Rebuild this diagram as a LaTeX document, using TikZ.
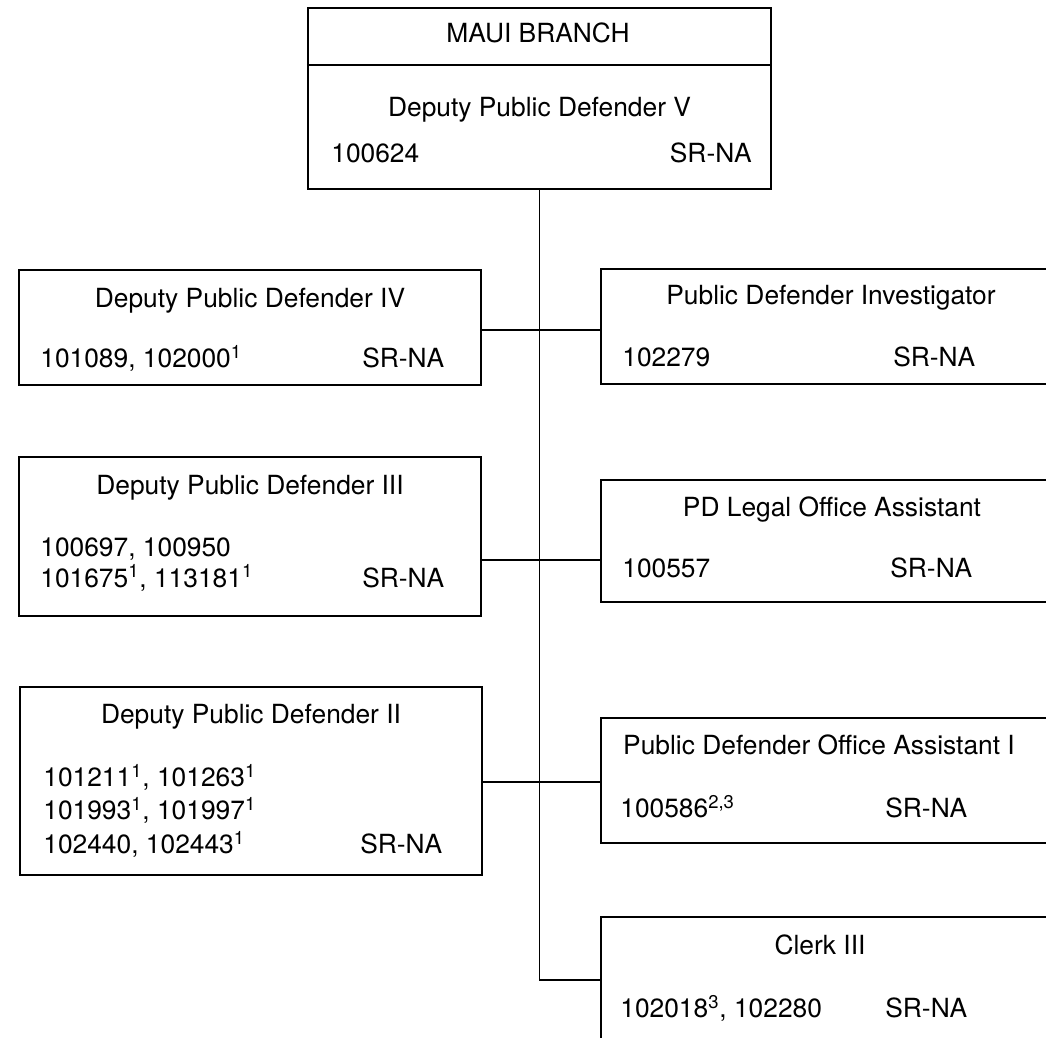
\documentclass[tikz,border=0pt]{standalone}
\usepackage{fontspec}
\setmainfont{TeX Gyre Heros}
\tikzset{
  box/.style={draw, rectangle, line width=1.4pt, minimum width=9.24cm, inner sep=0pt},
  ttl/.style={anchor=base, inner sep=0pt},
  num/.style={anchor=base west, inner sep=0pt},
  link/.style={line width=1.1pt}
}
\begin{document}
\begin{tikzpicture}[font=\fontsize{15}{18}\selectfont]
\useasboundingbox (0,0) rectangle (20.92,20.74);
\clip (0,0) rectangle (20.92,20.74);

\node[box, minimum width=9.26cm, minimum height=3.62cm] (maui) at (10.79,18.77) {};
\node[box, minimum height=2.30cm] (dpd4) at (5.00,14.19) {};
\node[box, minimum height=2.30cm] (pdi) at (16.64,14.21) {};
\node[box, minimum height=3.18cm] (dpd3) at (5.00,10.01) {};
\node[box, minimum height=2.44cm] (pdloa) at (16.64,9.92) {};
\node[box, minimum height=3.76cm] (dpd2) at (5.02,5.12) {};
\node[box, minimum height=2.50cm] (pdoa) at (16.64,5.13) {};
\node[box, minimum height=3.00cm] (clerk) at (16.64,0.90) {};

\draw[line width=1.4pt] (maui.west |- 0,19.44) -- (maui.east |- 0,19.44);

\coordinate (j1) at (10.78,14.14);
\coordinate (j2) at (10.78,9.54);
\coordinate (j3) at (10.78,5.10);
\coordinate (j4) at (10.78,1.14);

\draw[link] (maui.south) -- (maui.south |- j4) -- (clerk.west |- j4);
\draw[link] (dpd4.east |- j1) -- (pdi.west |- j1);
\draw[link] (dpd3.east |- j2) -- (pdloa.west |- j2);
\draw[link] (dpd2.east |- j3) -- (pdoa.west |- j3);

\node[ttl] (mauit) at (10.76,19.89) {MAUI BRANCH};
\node[ttl] (maui1) at (10.79,18.41) {Deputy Public Defender V};
\node[num] (maui2) at (6.62,17.49) {100624};
\node[ttl, anchor=base east] (maui3) at (15.04,17.49) {SR-NA};

\node[ttl] (dpd4t) at (5.00,14.59) {Deputy Public Defender IV};
\node[num] (dpd4a) at (0.80,13.39) {101089, 102000\textsuperscript{1}};
\node[num] (dpd4s) at (7.24,13.39) {SR-NA};

\node[ttl] (pdit) at (16.62,14.65) {Public Defender Investigator};
\node[num] (pdia) at (12.44,13.41) {102279};
\node[num] (pdis) at (17.86,13.41) {SR-NA};

\node[ttl] (dpd3t) at (5.00,10.85) {Deputy Public Defender III};
\node[num] (dpd3a) at (0.80,9.61) {100697, 100950};
\node[num] (dpd3b) at (0.80,9.00) {101675\textsuperscript{1}, 113181\textsuperscript{1}};
\node[num] (dpd3s) at (7.24,9.00) {SR-NA};

\node[ttl] (pdloat) at (16.64,10.41) {PD Legal Office Assistant};
\node[num] (pdloaa) at (12.44,9.19) {100557};
\node[num] (pdloas) at (17.80,9.19) {SR-NA};

\node[ttl] (dpd2t) at (5.02,6.27) {Deputy Public Defender II};
\node[num] (dpd2a) at (0.86,5.01) {101211\textsuperscript{1}, 101263\textsuperscript{1}};
\node[num] (dpd2b) at (0.86,4.35) {101993\textsuperscript{1}, 101997\textsuperscript{1}};
\node[num] (dpd2c) at (0.86,3.67) {102440, 102443\textsuperscript{1}};
\node[num] (dpd2s) at (7.20,3.67) {SR-NA};

\node[ttl] (pdoat) at (16.38,5.65) {Public Defender Office Assistant I};
\node[num] (pdoaa) at (12.40,4.39) {100586\textsuperscript{2,3}};
\node[num] (pdoas) at (17.70,4.39) {SR-NA};

\node[ttl] (clerkt) at (16.40,1.65) {Clerk III};
\node[num] (clerka) at (12.40,0.39) {102018\textsuperscript{3}, 102280};
\node[num] (clerks) at (17.70,0.39) {SR-NA};
\end{tikzpicture}
\end{document}
